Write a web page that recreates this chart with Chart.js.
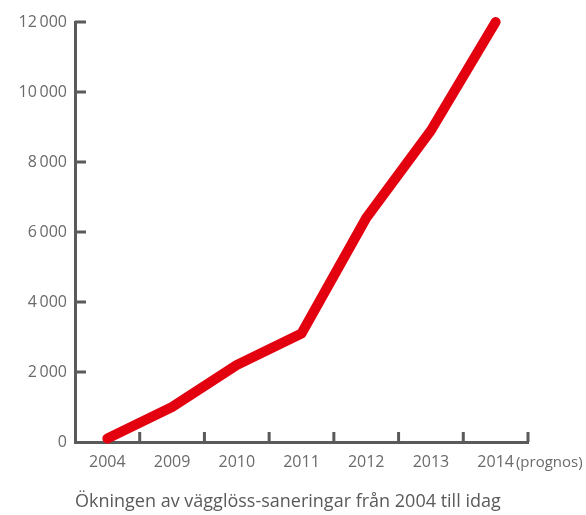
<!DOCTYPE html>
<html lang="sv">
<head>
  <meta charset="UTF-8" />
  <title>Vägglöss-saneringar</title>
  <script src="https://cdn.jsdelivr.net/npm/chart.js"></script>
  <style>
    body {
      margin: 0;
      padding: 0;
      background: #fff;
    }
    canvas {
      display: block;
    }
  </style>
</head>
<body>
  <canvas id="lineChart" width="586" height="515"></canvas>

  <script>
    // data
    const years = ['2004', '2009', '2010', '2011', '2012', '2013', '2014 (prognos)'];
    const saneringar = [100, 1000, 2200, 3100, 6400, 8900, 12000];
    const yMin = 0;
    const yMax = 12000;
    const yStep = 2000;
    const caption = 'Ökningen av vägglöss-saneringar från 2004 till idag';

    const axisColor = '#5a5a5a';
    const textColor = '#6a6a6a';
    const fontFamily = "'Open Sans', sans-serif";

    function withSpace(v) {
      return String(v).replace(/\B(?=(\d{3})+(?!\d))/g, '\u2009');
    }

    // short tick marks pointing into the plot, "(prognos)" suffix and the caption
    const innerTicks = {
      id: 'innerTicks',
      afterDraw(chart) {
        const ctx = chart.ctx;
        const x = chart.scales.x;
        const y = chart.scales.y;
        ctx.save();
        ctx.strokeStyle = axisColor;
        ctx.lineWidth = 3;
        ctx.beginPath();
        y.ticks.forEach(t => {
          if (t.value === yMin) return;
          const py = y.getPixelForValue(t.value);
          ctx.moveTo(x.left, py);
          ctx.lineTo(x.left + 11, py);
        });
        for (let i = 1; i < years.length; i++) {
          const px = (x.getPixelForTick(i) + x.getPixelForTick(i - 1)) / 2;
          ctx.moveTo(px, x.top);
          ctx.lineTo(px, x.top - 10);
        }
        ctx.moveTo(x.right, x.top);
        ctx.lineTo(x.right, x.top - 10);
        ctx.stroke();

        // suffix after the last year label
        const items = x.getLabelItems();
        const last = items[items.length - 1];
        const full = years[years.length - 1];
        const suffix = full.slice(full.indexOf(' ') + 1);
        ctx.font = last.font.string;
        const w = ctx.measureText(String(last.label)).width;
        ctx.font = 'normal 15px ' + fontFamily;
        ctx.fillStyle = textColor;
        ctx.textAlign = 'left';
        ctx.textBaseline = last.options.textBaseline;
        ctx.fillText(suffix, last.options.translation[0] + w / 2 + 2, last.options.translation[1] + last.textOffset);

        // caption under the axis, starting at the y axis
        ctx.font = 'normal 18px ' + fontFamily;
        ctx.fillStyle = '#5a5a5a';
        ctx.textBaseline = 'alphabetic';
        ctx.fillText(caption, x.left, x.top + 65);
        ctx.restore();
      }
    };

    new Chart(document.getElementById('lineChart'), {
      type: 'line',
      data: {
        labels: years,
        datasets: [{
          data: saneringar,
          borderColor: '#e3000f',
          borderWidth: 10,
          borderCapStyle: 'round',
          borderJoinStyle: 'round',
          pointRadius: 0,
          tension: 0,
          clip: false
        }]
      },
      options: {
        responsive: false,
        animation: false,
        layout: {
          padding: { top: 22, right: 58, bottom: 38, left: 0 }
        },
        plugins: {
          legend: { display: false },
          tooltip: { enabled: false }
        },
        scales: {
          x: {
            offset: true,
            grid: { display: false, drawTicks: false },
            border: { color: axisColor, width: 3 },
            ticks: {
              color: textColor,
              padding: 11,
              maxRotation: 0,
              autoSkip: false,
              font: { family: fontFamily, size: 16 },
              callback: function (v, i) {
                return years[i].split(' ')[0];
              }
            },
            afterFit(scale) { scale.height = 35; }
          },
          y: {
            min: yMin,
            max: yMax,
            grid: { display: false, drawTicks: false },
            border: { color: axisColor, width: 3 },
            ticks: {
              stepSize: yStep,
              color: textColor,
              padding: 8,
              font: { family: fontFamily, size: 16 },
              callback: v => withSpace(v)
            },
            afterFit(scale) { scale.width = 75; }
          }
        }
      },
      plugins: [innerTicks]
    });
  </script>
</body>
</html>
